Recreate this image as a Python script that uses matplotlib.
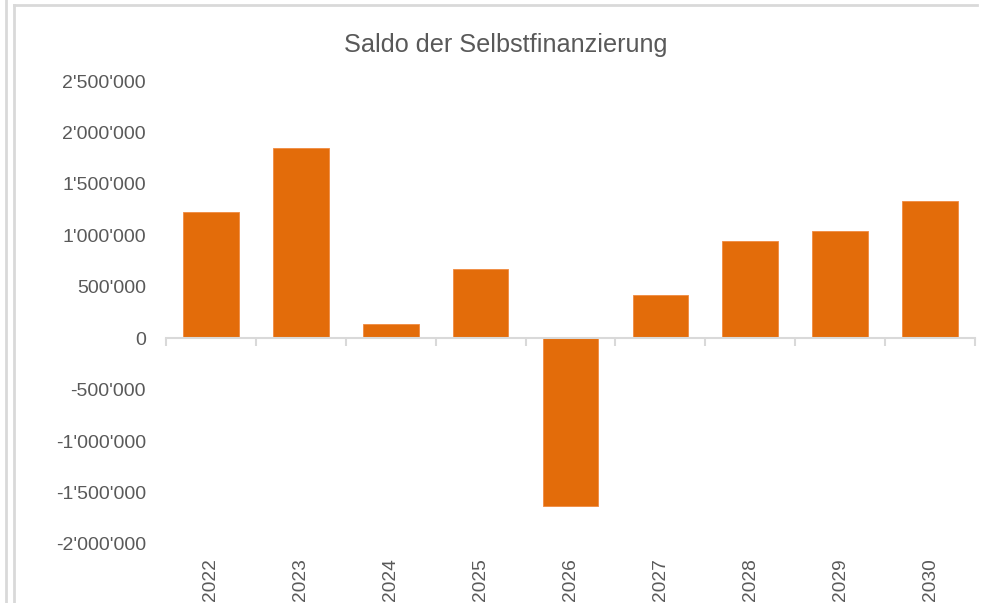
import matplotlib
matplotlib.use("Agg")
import matplotlib.pyplot as plt
from matplotlib.lines import Line2D
from matplotlib.ticker import FuncFormatter, MultipleLocator

years = ["2022", "2023", "2024", "2025", "2026", "2027", "2028", "2029", "2030"]
saldo = [1222000, 1845000, 136000, 670000, -1630000, 417000, 942000, 1039000, 1330000]
title = "Saldo der Selbstfinanzierung"

plt.rcParams['font.family'] = ['Liberation Sans', 'DejaVu Sans']
text_color = "#595959"
bar_color = "#E36C0A"
axis_color = "#D9D9D9"

W, H = 982, 603
fig = plt.figure(figsize=(W / 100, H / 100), dpi=100)
ax = fig.add_axes([166 / W, 1 - 544 / H, (975 - 166) / W, (544 - 81) / H])

x = list(range(len(years)))
ax.bar(x, saldo, width=0.62, color=bar_color, edgecolor="#F08A40", linewidth=0.6, zorder=2)

ax.set_xlim(-0.5, len(years) - 0.5)
ax.set_ylim(-2000000, 2500000)
ax.yaxis.set_major_locator(MultipleLocator(500000))

def fmt(v, pos):
    s = f"{abs(int(round(v))):,}".replace(",", "'")
    return ("-" if v < 0 else "") + s

ax.yaxis.set_major_formatter(FuncFormatter(fmt))
ax.tick_params(axis='y', length=0, pad=14.4, labelsize=14, labelcolor=text_color)

for s in ["top", "right", "left"]:
    ax.spines[s].set_visible(False)
ax.spines["bottom"].set_position(("data", 0))
ax.spines["bottom"].set_color(axis_color)
ax.spines["bottom"].set_linewidth(1.5)

ax.set_xticks([i - 0.5 for i in range(len(years) + 1)])
ax.set_xticklabels([])
ax.tick_params(axis='x', length=6, width=1.5, color=axis_color, direction='out')

for i, yr in enumerate(years):
    ax.text(i, -0.031, yr, transform=ax.get_xaxis_transform(), rotation=90,
            ha='center', va='top', fontsize=13.8, color=text_color)

fig.text(506 / W, 1 - 45 / H, title, ha='center', va='center', fontsize=18.2, color=text_color)

# frame lines
def fline(xs, ys):
    fig.add_artist(Line2D([v / W for v in xs], [1 - v / H for v in ys],
                          color="#D9D9D9", linewidth=2, transform=fig.transFigure))

fline([6, 6], [0, H])
fline([14, 14], [5, H])
fline([14, 977], [5, 5])

fig.savefig("out.png", dpi=100)
